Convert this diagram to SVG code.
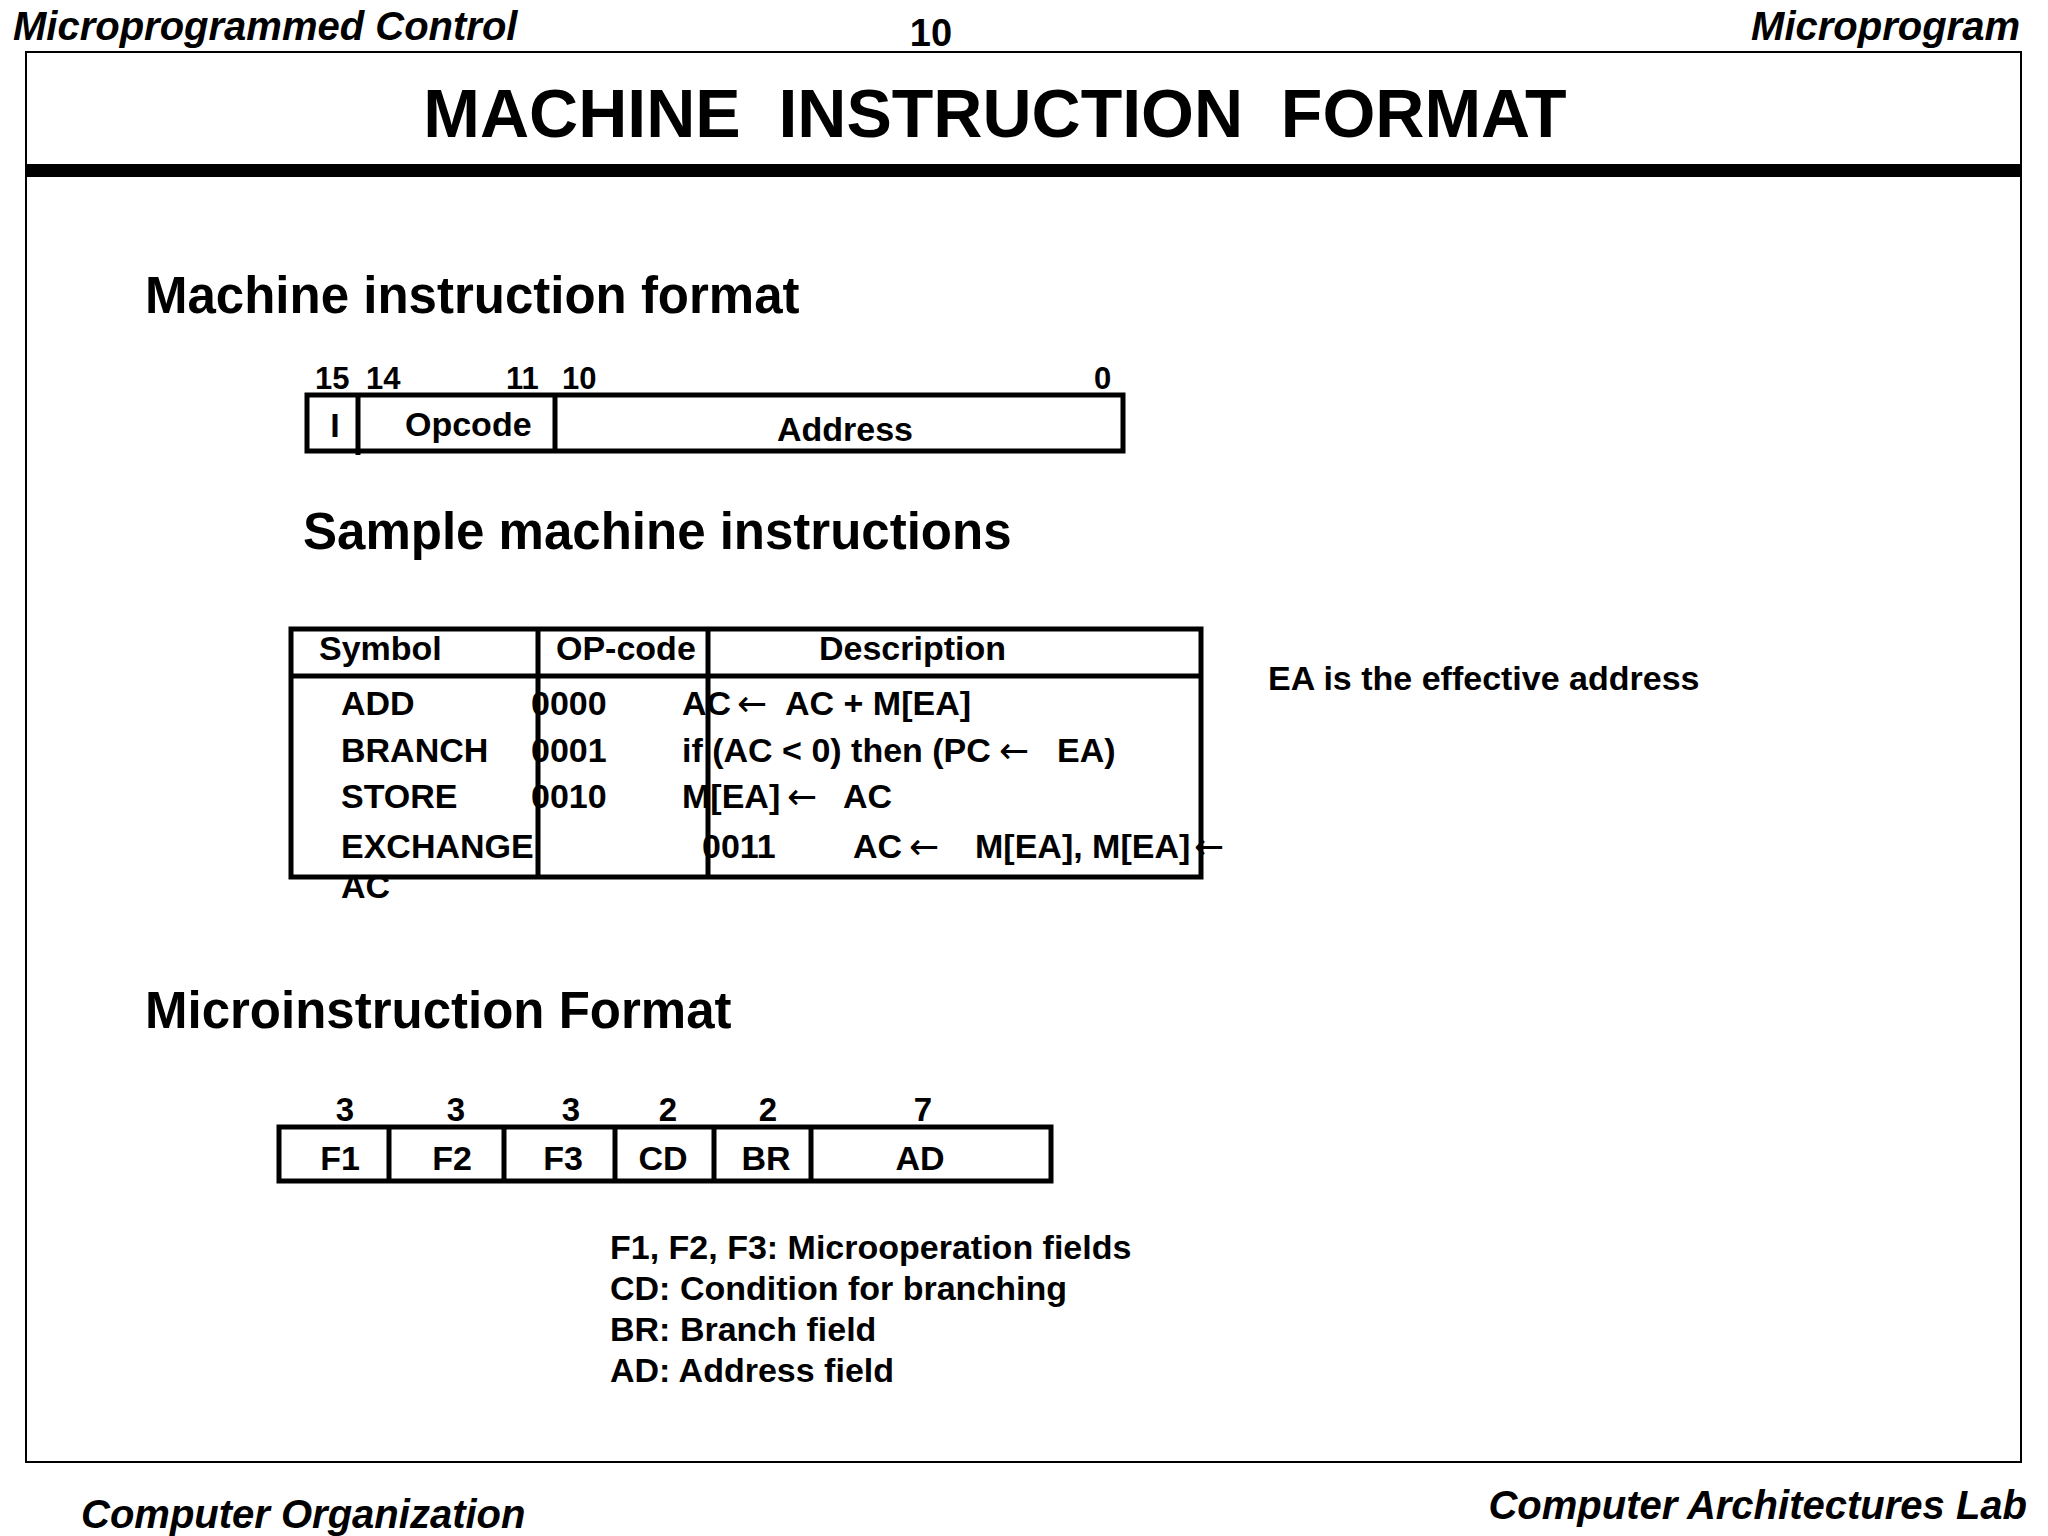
<svg xmlns="http://www.w3.org/2000/svg" width="2048" height="1536" viewBox="0 0 2048 1536">
<style>
text{font-family:"Liberation Sans",Arial,sans-serif;font-weight:bold;fill:#000}
.hdr{font-size:40px;font-style:italic}
.h1{font-size:51px}
.t34{font-size:34px}
.d30{font-size:31px}
.arr{font-family:"DejaVu Sans","Liberation Sans",sans-serif;font-weight:normal;font-size:36px}
.box{fill:none;stroke:#000;stroke-width:5}
.ln{stroke:#000;stroke-width:5}
</style>
<rect width="2048" height="1536" fill="#fff"/>
<g id="frame">
<rect x="26" y="52" width="1995" height="1410" fill="none" stroke="#000" stroke-width="2"/>
<rect x="26" y="164" width="1995" height="13" fill="#000"/>
</g>
<g id="header">
<text class="hdr" x="13" y="40">Microprogrammed Control</text>
<text x="931" y="46" font-size="38" text-anchor="middle">10</text>
<text class="hdr" x="2020" y="40" text-anchor="end">Microprogram</text>
<text x="995" y="137" font-size="68" text-anchor="middle" xml:space="preserve">MACHINE  INSTRUCTION  FORMAT</text>
</g>
<g id="footer">
<text class="hdr" x="81" y="1528">Computer Organization</text>
<text class="hdr" x="2027" y="1519" text-anchor="end">Computer Architectures Lab</text>
</g>
<g id="machine-format">
<text class="h1" x="145" y="313">Machine instruction format</text>
<text class="d30" x="315" y="389">15</text>
<text class="d30" x="366" y="389">14</text>
<text class="d30" x="506" y="389">11</text>
<text class="d30" x="562" y="389">10</text>
<text class="d30" x="1094" y="389">0</text>
<rect class="box" x="307" y="395" width="816" height="56" stroke-width="4.5"/>
<line class="ln" x1="358" y1="395" x2="358" y2="455" stroke-width="4"/>
<line class="ln" x1="555" y1="395" x2="555" y2="451" stroke-width="4"/>
<text class="t34" x="335" y="437" text-anchor="middle">I</text>
<text class="t34" x="405" y="436">Opcode</text>
<text class="t34" x="845" y="441" text-anchor="middle">Address</text>
</g>
<g id="sample-table">
<text class="h1" x="303" y="549">Sample machine instructions</text>
<rect class="box" x="291" y="629" width="910" height="248"/>
<line class="ln" x1="291" y1="676" x2="1201" y2="676"/>
<line class="ln" x1="538" y1="629" x2="538" y2="877"/>
<line class="ln" x1="708" y1="629" x2="708" y2="877"/>
<text class="t34" x="319" y="660">Symbol</text>
<text class="t34" x="556" y="660">OP-code</text>
<text class="t34" x="819" y="660">Description</text>
<text class="t34" x="341" y="715">ADD</text>
<text class="t34" x="531" y="715">0000</text>
<text class="t34" x="682" y="715">AC</text>
<text class="arr" x="737" y="716">←</text>
<text class="t34" x="785" y="715">AC + M[EA]</text>
<text class="t34" x="341" y="762">BRANCH</text>
<text class="t34" x="531" y="762">0001</text>
<text class="t34" x="682" y="762">if (AC &lt; 0) then (PC</text>
<text class="arr" x="999" y="763">←</text>
<text class="t34" x="1057" y="762">EA)</text>
<text class="t34" x="341" y="808">STORE</text>
<text class="t34" x="531" y="808">0010</text>
<text class="t34" x="682" y="808">M[EA]</text>
<text class="arr" x="787" y="809">←</text>
<text class="t34" x="843" y="808">AC</text>
<text class="t34" x="341" y="858">EXCHANGE</text>
<text class="t34" x="341" y="898">AC</text>
<text class="t34" x="702" y="858">0011</text>
<text class="t34" x="853" y="858">AC</text>
<text class="arr" x="909" y="859">←</text>
<text class="t34" x="975" y="858">M[EA], M[EA]</text>
<text class="arr" x="1194" y="859">←</text>
<text class="t34" x="1268" y="690">EA is the effective address</text>
</g>
<g id="micro-format">
<text class="h1" x="145" y="1028">Microinstruction Format</text>
<rect class="box" x="279" y="1127" width="772" height="54"/>
<line class="ln" x1="389" y1="1127" x2="389" y2="1181" stroke-width="4"/>
<line class="ln" x1="504" y1="1127" x2="504" y2="1181" stroke-width="4"/>
<line class="ln" x1="615" y1="1127" x2="615" y2="1181" stroke-width="4"/>
<line class="ln" x1="714" y1="1127" x2="714" y2="1181" stroke-width="4"/>
<line class="ln" x1="811" y1="1127" x2="811" y2="1181" stroke-width="4"/>
<g text-anchor="middle">
<text x="345" y="1121" font-size="33">3</text>
<text x="456" y="1121" font-size="33">3</text>
<text x="571" y="1121" font-size="33">3</text>
<text x="668" y="1121" font-size="33">2</text>
<text x="768" y="1121" font-size="33">2</text>
<text x="923" y="1121" font-size="33">7</text>
<text class="t34" x="340" y="1170">F1</text>
<text class="t34" x="452" y="1170">F2</text>
<text class="t34" x="563" y="1170">F3</text>
<text class="t34" x="663" y="1170">CD</text>
<text class="t34" x="766" y="1170">BR</text>
<text class="t34" x="920" y="1170">AD</text>
</g>
<text class="t34" x="610" y="1259">F1, F2, F3: Microoperation fields</text>
<text class="t34" x="610" y="1300">CD: Condition for branching</text>
<text class="t34" x="610" y="1341">BR: Branch field</text>
<text class="t34" x="610" y="1382">AD: Address field</text>
</g>
</svg>
